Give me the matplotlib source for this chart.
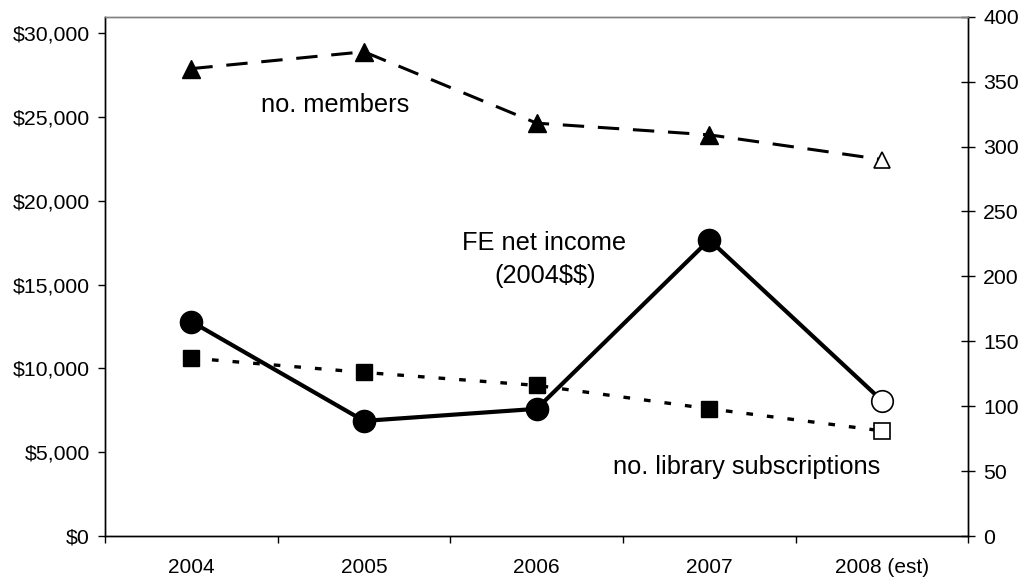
import matplotlib
matplotlib.use("Agg")
import matplotlib.pyplot as plt
from matplotlib.ticker import FuncFormatter, MultipleLocator

plt.rcParams['font.family'] = ['Liberation Sans', 'DejaVu Sans']

years = ["2004", "2005", "2006", "2007", "2008 (est)"]
fe_income = [12800, 6870, 7590, 17680, 8080]
members = [360, 373, 318, 309, 290]
library_subs = [137, 126, 116, 98, 81]

W, H = 1024, 577
fig = plt.figure(figsize=(W / 100, H / 100), dpi=100)
ax = fig.add_axes([105 / W, 1 - 536 / H, (968.3 - 105) / W, (536 - 16.7) / H])
ax2 = ax.twinx()

x = list(range(len(years)))

# FE net income (left axis)
ax.plot(x, fe_income, color='black', lw=3.0, solid_capstyle='butt', zorder=3)
ax.plot(x[:-1], fe_income[:-1], ls='none', marker='o', ms=16, mfc='black', mec='black', zorder=4)
ax.plot(x[-1:], fe_income[-1:], ls='none', marker='o', ms=15.5, mfc='white', mec='black', mew=1.2, zorder=4)

# members (right axis)
ax2.plot(x, members, color='black', lw=2.2, dashes=(7, 4.5), dash_capstyle='butt', zorder=3)
ax2.plot(x[:-1], members[:-1], ls='none', marker='^', ms=12.5, mfc='black', mec='black', zorder=4)
ax2.plot(x[-1:], members[-1:], ls='none', marker='^', ms=12, mfc='white', mec='black', mew=1.2, zorder=4)

# library subscriptions (right axis)
ax2.plot(x, library_subs, color='black', lw=2.4, dashes=(2, 4.2), dash_capstyle='butt', zorder=3)
ax2.plot(x[:-1], library_subs[:-1], ls='none', marker='s', ms=11.5, mfc='black', mec='black', zorder=4)
ax2.plot(x[-1:], library_subs[-1:], ls='none', marker='s', ms=11, mfc='white', mec='black', mew=1.2, zorder=4)

ax.set_xlim(-0.5, len(years) - 0.5)
ax.set_ylim(0, 31000)
ax2.set_ylim(0, 400)

# x ticks: boundaries as major ticks, labels at category centers
ax.set_xticks([i - 0.5 for i in range(len(years) + 1)])
ax.set_xticklabels([])
ax.set_xticks(x, minor=True)
ax.set_xticklabels(years, minor=True, fontsize=15)
ax.tick_params(axis='x', which='major', direction='out', length=5, width=1, color='black')
ax.tick_params(axis='x', which='minor', length=0, pad=16)

ax.yaxis.set_major_locator(MultipleLocator(5000))
ax.yaxis.set_major_formatter(FuncFormatter(lambda v, p: "\\${:,.0f}".format(v)))
ax.tick_params(axis='y', direction='out', length=5, width=1, pad=6, labelsize=15.3)

ax2.yaxis.set_major_locator(MultipleLocator(50))
ax2.tick_params(axis='y', direction='inout', length=9.5, width=1, pad=6, labelsize=15.3)

for a in (ax, ax2):
    a.spines['top'].set_color('#808080')
    a.spines['top'].set_linewidth(1)
    for s in ('left', 'right', 'bottom'):
        a.spines[s].set_color('black')
        a.spines[s].set_linewidth(1)

# annotations in pixel coordinates of the figure
def ftext(px, py, s, **kw):
    fig.text(px / W, 1 - py / H, s, fontsize=18.3, color='black', parse_math=False, **kw)

ftext(335, 112, "no. members", ha='center', va='baseline')
ftext(544, 250, "FE net income", ha='center', va='baseline')
ftext(545, 283, "(2004$$)", ha='center', va='baseline')
ftext(880, 474, "no. library subscriptions", ha='right', va='baseline')

fig.savefig("out.png", dpi=100)
